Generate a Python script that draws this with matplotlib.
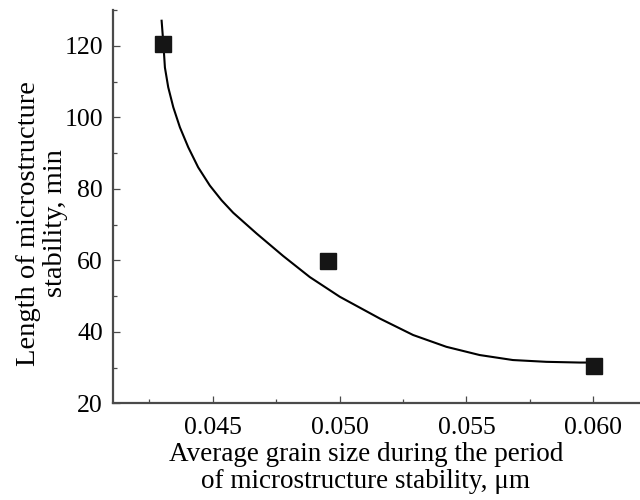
import matplotlib
matplotlib.use("Agg")
import matplotlib.pyplot as plt
from matplotlib.ticker import MultipleLocator

# measured points
grain_size = [0.04306, 0.04955, 0.06002]
stability_min = [120.5, 59.7, 30.5]

# fitted curve
curve_x = [0.04299, 0.04306, 0.04312, 0.04325, 0.04345, 0.04371, 0.04404,
           0.04443, 0.04489, 0.04535, 0.04581, 0.04673, 0.04778, 0.04883,
           0.05001, 0.05159, 0.05290, 0.05421, 0.05552, 0.05683, 0.05815,
           0.05946, 0.05990]
curve_y = [127.0, 120.5, 113.9, 108.4, 102.8, 97.2, 91.6,
           86.0, 80.9, 76.8, 73.3, 67.5, 61.2, 55.3,
           49.8, 43.7, 39.1, 35.8, 33.5, 32.1, 31.6,
           31.4, 31.4]

x_ticks = [0.045, 0.050, 0.055, 0.060]
x_ticklabels = ['0.045', '0.050', '0.055', '0.060']
y_ticks = [20, 40, 60, 80, 100, 120]

plt.rcParams['font.family'] = ['Liberation Serif', 'DejaVu Serif']

fig = plt.figure(figsize=(6.4, 5), dpi=100)
ax = fig.add_axes([0.176, 0.1934, 0.824, 0.7866])

ax.plot(curve_x, curve_y, color='black', linewidth=1.5, zorder=2)
ax.plot(grain_size, stability_min, linestyle='none', marker='s',
        markersize=12, color='#151515', zorder=3)

ax.set_xlim(0.04106, 0.06184)
ax.set_ylim(20, 130)
ax.set_xticks(x_ticks)
ax.set_xticklabels(x_ticklabels)
ax.set_yticks(y_ticks)
ax.xaxis.set_minor_locator(MultipleLocator(0.0025))
ax.yaxis.set_minor_locator(MultipleLocator(10))

for side in ['top', 'right']:
    ax.spines[side].set_visible(False)
for side in ['left', 'bottom']:
    ax.spines[side].set_color('#4a4a4a')
    ax.spines[side].set_linewidth(1.6)

ax.tick_params(which='major', direction='in', length=5.3, width=0.9,
               color='#4a4a4a', labelsize=18.5)
ax.tick_params(axis='x', which='major', pad=10)
ax.tick_params(axis='y', which='major', pad=7)
ax.tick_params(which='minor', direction='in', length=3.2, width=0.9,
               color='#4a4a4a')

ax.set_xlabel("Average grain size during the period\nof microstructure stability, \u03bcm",
              fontsize=19.5, linespacing=1.12)
ax.set_ylabel("Length of microstructure\nstability, min", fontsize=20.5,
              linespacing=1.08)
ax.xaxis.set_label_coords(0.480, -0.098)
ax.yaxis.set_label_coords(-0.085, 0.458)

fig.savefig("out.png", dpi=100)
